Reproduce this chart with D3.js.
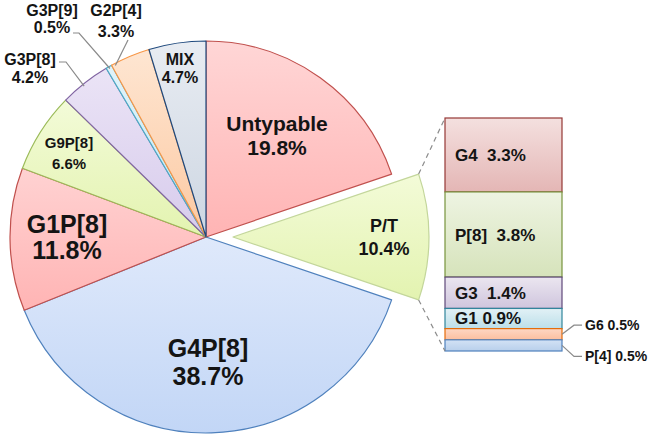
<!DOCTYPE html>
<html>
<head>
<meta charset="utf-8">
<script src="https://cdn.jsdelivr.net/npm/d3@7"></script>
<style>
  html, body { margin: 0; padding: 0; background: #fff; }
  text { font-family: "Liberation Sans", Arial, sans-serif; font-weight: bold; fill: #141414; }
</style>
</head>
<body>
<svg id="chart" width="653" height="438"></svg>
<script>
// pie data (clockwise from 12 o'clock)
const pieLabels = ["Untypable", "P/T", "G4P[8]", "G1P[8]", "G9P[8]", "G3P[8]", "G3P[9]", "G2P[4]", "MIX"];
const pieValues = [19.8, 10.4, 38.7, 11.8, 6.6, 4.2, 0.5, 3.3, 4.7];

// breakdown of P/T (top to bottom)
const barLabels = ["G4", "P[8]", "G3", "G1", "G6", "P[4]"];
const barValues = [3.3, 3.8, 1.4, 0.9, 0.5, 0.5];

const width = 653, height = 438;
const cx = 206, cy = 237, radius = 196;
const explode = 27;

const svg = d3.select("#chart");
const defs = svg.append("defs");

// fill gradients [top, bottom], stroke
const pieStyle = {
  "Untypable": { c: ["#ffd6d6", "#ffb4b4"], s: "#c0504d" },
  "P/T":       { c: ["#f3fbd8", "#e3f3b0"], s: "#c3d69b" },
  "G4P[8]":    { c: ["#dfe9fb", "#c2d6f6"], s: "#4f81bd" },
  "G1P[8]":    { c: ["#ffd2d2", "#ffb4b4"], s: "#c0504d" },
  "G9P[8]":    { c: ["#f3fbd8", "#e3f3b0"], s: "#9bbb59" },
  "G3P[8]":    { c: ["#ebe4f6", "#d7cbec"], s: "#8064a2" },
  "G3P[9]":    { c: ["#e0f3fa", "#c4e6f2"], s: "#4bacc6" },
  "G2P[4]":    { c: ["#fee6d2", "#fcc9a2"], s: "#f79646" },
  "MIX":       { c: ["#e8ecf2", "#cdd6e2"], s: "#1f497d" }
};
const barStyle = {
  "G4":   { c: ["#f4e0df", "#e4b6b5"], s: "#953735" },
  "P[8]": { c: ["#eef4e2", "#d6e3bb"], s: "#77933c" },
  "G3":   { c: ["#ebe6f0", "#cfc5dd"], s: "#5f497a" },
  "G1":   { c: ["#e2f1f6", "#bcdfe9"], s: "#31859c" },
  "G6":   { c: ["#fdd7c4", "#fbbf9f"], s: "#e46c0a" },
  "P[4]": { c: ["#d3e2f5", "#b8cfeb"], s: "#4f81bd" }
};

function gradient(id, cols) {
  const g = defs.append("linearGradient").attr("id", id)
    .attr("x1", 0).attr("y1", 0).attr("x2", 0).attr("y2", 1);
  g.append("stop").attr("offset", "0%").attr("stop-color", cols[0]);
  g.append("stop").attr("offset", "100%").attr("stop-color", cols[1]);
  return `url(#${id})`;
}

const pie = d3.pie().sort(null).value(d => d.value);
const arcs = pie(pieLabels.map((l, i) => ({ label: l, value: pieValues[i] })));
const arc = d3.arc().innerRadius(0).outerRadius(radius);

const offsetOf = d => {
  if (d.data.label !== "P/T") return [0, 0];
  const m = (d.startAngle + d.endAngle) / 2;
  return [Math.sin(m) * explode, -Math.cos(m) * explode];
};

const pieG = svg.append("g").attr("transform", `translate(${cx},${cy})`);
pieG.selectAll("path.slice")
  .data(arcs)
  .join("path")
  .attr("class", "slice")
  .attr("transform", d => `translate(${offsetOf(d)})`)
  .attr("d", arc)
  .attr("fill", (d, i) => gradient("pg" + i, pieStyle[d.data.label].c))
  .attr("stroke", d => pieStyle[d.data.label].s)
  .attr("stroke-width", 1.2)
  .attr("stroke-linejoin", "round");

// stacked bar for P/T
const barX = 445, barW = 117;
const y = d3.scaleLinear().domain([0, d3.sum(barValues)]).range([118, 351]);
const stack = [];
let acc = 0;
barValues.forEach((v, i) => { stack.push({ label: barLabels[i], value: v, y0: acc, y1: acc + v }); acc += v; });

svg.append("g").selectAll("rect")
  .data(stack)
  .join("rect")
  .attr("x", barX)
  .attr("y", d => y(d.y0))
  .attr("width", barW)
  .attr("height", d => y(d.y1) - y(d.y0))
  .attr("fill", (d, i) => gradient("bg" + i, barStyle[d.label].c))
  .attr("stroke", d => barStyle[d.label].s)
  .attr("stroke-width", 1.2);

// dashed connectors from exploded slice to bar
const pt = arcs.find(d => d.data.label === "P/T");
const off = offsetOf(pt);
const corner = a => [cx + off[0] + Math.sin(a) * radius, cy + off[1] - Math.cos(a) * radius];
const c1 = corner(pt.startAngle), c2 = corner(pt.endAngle);
svg.append("line").attr("x1", c1[0]).attr("y1", c1[1]).attr("x2", barX).attr("y2", y(0))
  .attr("stroke", "#8c8c8c").attr("stroke-width", 1.2).attr("stroke-dasharray", "5,4");
svg.append("line").attr("x1", c2[0]).attr("y1", c2[1]).attr("x2", barX).attr("y2", y(acc))
  .attr("stroke", "#8c8c8c").attr("stroke-width", 1.2).attr("stroke-dasharray", "5,4");

// pie labels: [x, baseline1, baseline2, font size]
const pieLabelPos = {
  "Untypable": [277, 131, 155, 21],
  "P/T":       [384, 232, 255, 18],
  "G4P[8]":    [208, 357, 385, 25],
  "G1P[8]":    [67, 233, 259, 25],
  "G9P[8]":    [69, 148, 169, 15],
  "G3P[8]":    [30, 65, 83, 16],
  "G3P[9]":    [52, 16, 33, 16],
  "G2P[4]":    [116, 16, 37, 16],
  "MIX":       [180, 65, 83, 16]
};
const lbl = svg.append("g").attr("text-anchor", "middle");
arcs.forEach(d => {
  const p = pieLabelPos[d.data.label];
  const t = lbl.append("text").style("font-size", p[3] + "px");
  t.append("tspan").attr("x", p[0]).attr("y", p[1]).text(d.data.label);
  t.append("tspan").attr("x", p[0]).attr("y", p[2]).text(d3.format(".1f")(d.data.value) + "%");
});

// leader lines for small outside slices
const leader = svg.append("g").attr("fill", "none").attr("stroke-width", 1.2);
const edge = (label, frac) => {
  const d = arcs.find(a => a.data.label === label);
  const a = d.startAngle + (d.endAngle - d.startAngle) * frac;
  return [cx + Math.sin(a) * (radius - 2), cy - Math.cos(a) * (radius - 2)];
};
let e = edge("G3P[8]", 0.45);
leader.append("path").attr("stroke", "#8a8a8a").attr("d", `M59,62H66L${e[0]},${e[1]}`);
e = edge("G3P[9]", 0.5);
leader.append("path").attr("stroke", "#8a8a8a").attr("d", `M73,33H79L${e[0]},${e[1]}`);
e = edge("G2P[4]", 0.08);
leader.append("path").attr("stroke", "#8a8a8a").attr("d", `M128,40L${e[0]},${e[1]}`);

// bar labels
const inside = stack.slice(0, 4);
svg.append("g").selectAll("text")
  .data(inside)
  .join("text")
  .attr("x", 455)
  .attr("y", d => d.label === "G1" ? y(d.y1) - 5 : (y(d.y0) + y(d.y1)) / 2 + 6)
  .style("font-size", "17px")
  .style("white-space", "pre")
  .text(d => d.label + (d.label === "G1" ? " " : "  ") + d3.format(".1f")(d.value) + "%");

const outside = stack.slice(4);
outside.forEach((d, i) => {
  const ym = (y(d.y0) + y(d.y1)) / 2;
  const ly = i === 0 ? ym - 9 : ym + 11;
  svg.append("path").attr("fill", "none").attr("stroke", "#8a8a8a").attr("stroke-width", 1.2)
    .attr("d", `M${barX + barW},${ym}L${barX + barW + 12},${ly}H${barX + barW + 20}`);
  svg.append("text").attr("x", barX + barW + 23).attr("y", ly + 5)
    .style("font-size", "14px")
    .text(d.label + " " + d3.format(".1f")(d.value) + "%");
});
</script>
</body>
</html>
